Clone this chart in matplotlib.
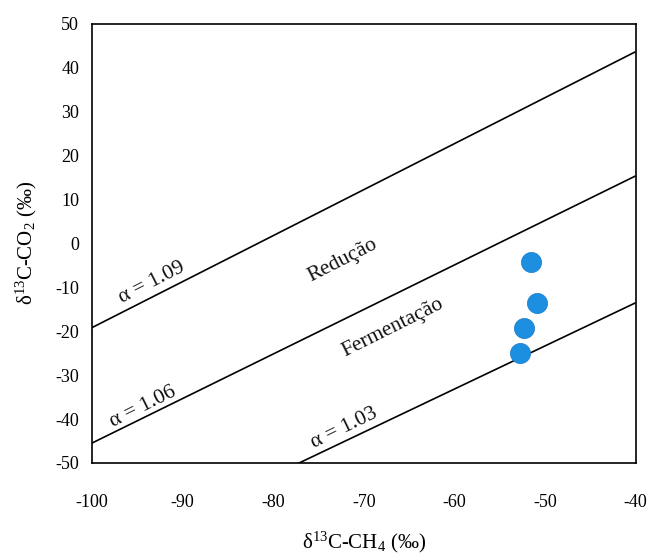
import matplotlib
matplotlib.use("Agg")
import matplotlib.pyplot as plt

# Fractionation lines: delta13C-CO2 at the left and right x-limits
line_x = [-100, -40]
alpha_labels = ["α = 1.09", "α = 1.06", "α = 1.03"]
line_y_109 = [-19.2, 43.7]
line_y_106 = [-45.5, 15.4]
line_y_103 = [-72.5, -13.5]

# Samples: delta13C-CH4 vs delta13C-CO2
ch4 = [-51.5, -50.9, -52.3, -52.8]
co2 = [-4.3, -13.5, -19.3, -25.0]

xticks = [-100, -90, -80, -70, -60, -50, -40]
yticks = [-50, -40, -30, -20, -10, 0, 10, 20, 30, 40, 50]

plt.rcParams["font.family"] = ["Liberation Serif", "DejaVu Serif"]
plt.rcParams["mathtext.fontset"] = "custom"
plt.rcParams["mathtext.rm"] = "Liberation Serif"
plt.rcParams["mathtext.it"] = "Liberation Serif:italic"
plt.rcParams["axes.unicode_minus"] = False

fig = plt.figure(figsize=(6.48, 5.58), dpi=100)
ax = fig.add_axes([0.1415, 0.1703, 0.8395, 0.7867])

for ys in (line_y_109, line_y_106, line_y_103):
    ax.plot(line_x, ys, color="black", lw=1.2, solid_capstyle="butt")

ax.scatter(ch4, co2, s=210, color="#1C8FE0", edgecolors="#1878c8",
           linewidths=0.5, zorder=3)

txt = dict(fontsize=15.5, color="#111111", ha="center", va="center",
           rotation_mode="anchor")
ax.text(-93.4, -9.0, alpha_labels[0], rotation=27, **txt)
ax.text(-94.3, -37.3, alpha_labels[1], rotation=26.5, **txt)
ax.text(-72.2, -42.0, alpha_labels[2], rotation=26, **txt)
ax.text(-72.3, -3.8, "Redução", rotation=27, **txt)
ax.text(-66.8, -19.2, "Fermentação", rotation=26.5, **txt)

ax.set_xlim(-100, -40)
ax.set_ylim(-50, 50)
ax.set_xticks(xticks)
ax.set_yticks(yticks)
ax.tick_params(length=0, labelsize=13)
ax.tick_params(axis="x", pad=22)
ax.tick_params(axis="y", pad=9)
for sp in ax.spines.values():
    sp.set_linewidth(1.2)

ax.set_xlabel("δ$^{13}$C-CH$_4$ (‰)", fontsize=15, labelpad=14)
ax.set_ylabel("δ$^{13}$C-CO$_2$ (‰)", fontsize=15, labelpad=12)

fig.savefig("out.png", dpi=100)
